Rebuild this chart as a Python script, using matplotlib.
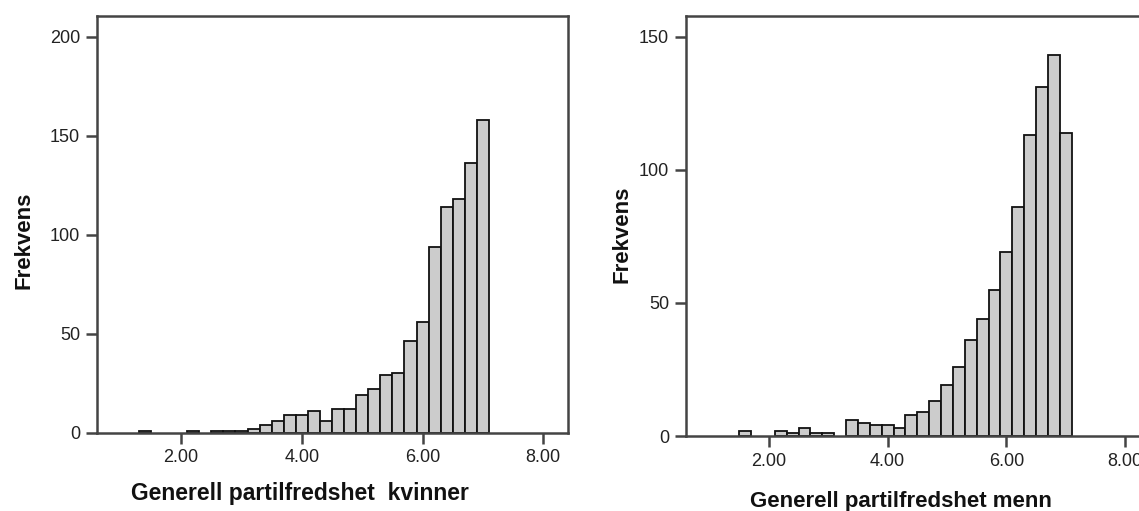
import numpy as np
import matplotlib
matplotlib.use("Agg")
import matplotlib.pyplot as plt
from matplotlib.ticker import FormatStrFormatter

# bin midpoints (bins of width 0.2)
bins = [1.0, 1.2, 1.4, 1.6, 1.8, 2.0, 2.2, 2.4, 2.6, 2.8, 3.0,
        3.2, 3.4, 3.6, 3.8, 4.0, 4.2, 4.4, 4.6, 4.8, 5.0,
        5.2, 5.4, 5.6, 5.8, 6.0, 6.2, 6.4, 6.6, 6.8, 7.0]

kvinner = [0, 0, 1, 0, 0, 0, 1, 0, 1, 1, 1,
           2, 4, 6, 9, 9, 11, 6, 12, 12, 19,
           22, 29, 30, 46, 56, 94, 114, 118, 136, 158]

menn = [0, 0, 0, 2, 0, 0, 2, 1, 3, 1, 1,
        0, 6, 5, 4, 4, 3, 8, 9, 13, 19,
        26, 36, 44, 55, 69, 86, 113, 131, 143, 114]

xticks = [2, 4, 6, 8]
yticks_k = [0, 50, 100, 150, 200]
yticks_m = [0, 50, 100, 150]

plt.rcParams['font.family'] = ['Liberation Sans', 'DejaVu Sans']

W, H = 1139, 511
fig = plt.figure(figsize=(W / 100, H / 100), dpi=100)


def px_axes(x0, x1, ytop, ybot):
    return fig.add_axes([x0 / W, (H - ybot) / H, (x1 - x0) / W, (ybot - ytop) / H])


def draw_hist(ax, counts, yticks, ymax):
    x = np.array(bins)
    c = np.array(counts)
    keep = c > 0  # empty bins are not drawn
    ax.bar(x[keep], c[keep], width=0.2, color='#cccccc', edgecolor='#111111',
           linewidth=1.3, zorder=2)
    ax.set_xlim(0.6, 8.41)
    ax.set_ylim(0, ymax)
    ax.set_xticks(xticks)
    ax.set_yticks(yticks)
    ax.xaxis.set_major_formatter(FormatStrFormatter('%.2f'))
    for s in ax.spines.values():
        s.set_color('#444444')
        s.set_linewidth(1.8)
    ax.tick_params(direction='out', length=8, width=1.8, color='#444444',
                   labelsize=13, labelcolor='#222222', pad=4)


ax1 = px_axes(96.7, 568, 16, 432.5)
draw_hist(ax1, kvinner, yticks_k, 210.5)

ax2 = px_axes(685.7, 1149.4, 16, 436)
draw_hist(ax2, menn, yticks_m, 157.8)

fig.text(24 / W, 1 - 240 / H, 'Frekvens', rotation=90, ha='center', va='center',
         fontsize=16, fontweight='bold', color='#111111')
fig.text(622 / W, 1 - 234 / H, 'Frekvens', rotation=90, ha='center', va='center',
         fontsize=16, fontweight='bold', color='#111111')
fig.text(300 / W, 1 - 493 / H, 'Generell partilfredshet  kvinner', ha='center',
         va='center', fontsize=16.5, fontweight='bold', color='#111111')
fig.text(901 / W, 1 - 502 / H, 'Generell partilfredshet menn', ha='center',
         va='center', fontsize=16, fontweight='bold', color='#111111')

fig.savefig('out.png', dpi=100)
